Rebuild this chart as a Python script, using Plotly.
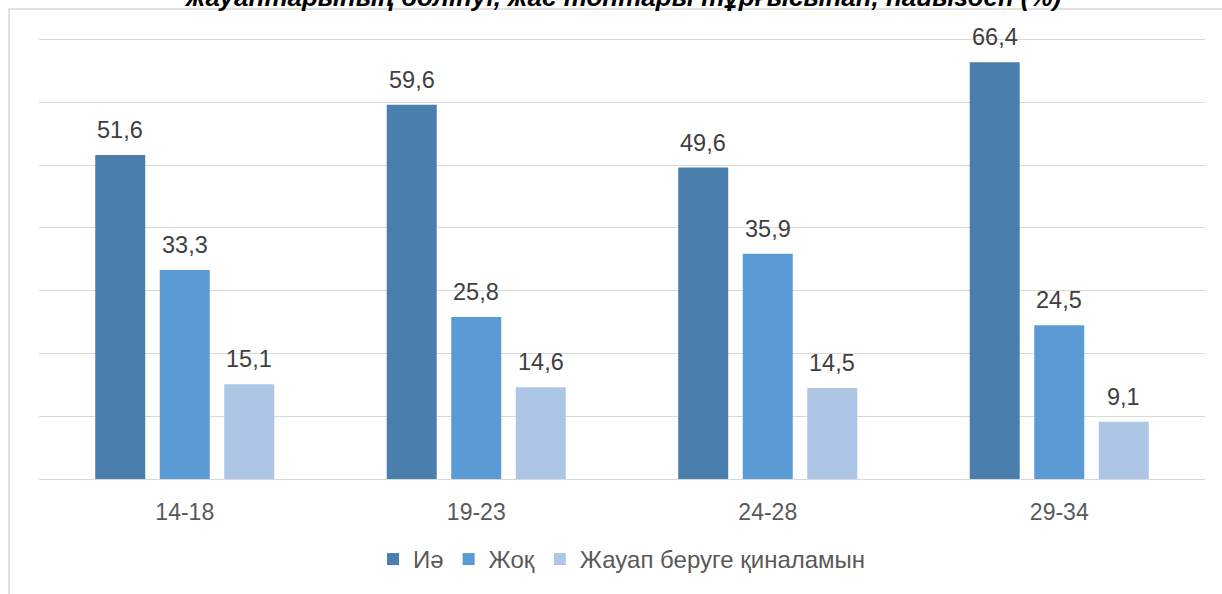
import plotly.graph_objects as go

categories = ["14-18", "19-23", "24-28", "29-34"]
series_names = ["Иә", "Жоқ", "Жауап беруге қиналамын"]
yes_vals = [51.6, 59.6, 49.6, 66.4]
no_vals = [33.3, 25.8, 35.9, 24.5]
hard_vals = [15.1, 14.6, 14.5, 9.1]
colors = ["#4A7EAD", "#5B9BD5", "#ADC6E5"]
title_text = "жауаптарының бөлінуі, жас топтары тұрғысынан, пайызбен (%)"

FONT = "Liberation Sans, Arial, sans-serif"
BARGAP = 0.336
BARGROUPGAP = 0.225

W, H = 1222, 594
ML, MR, MT, MB = 39, 17, 27, 112
PLOT_H = H - MT - MB


def py(pix):
    """figure pixel row -> paper y"""
    return (H - MB - pix) / PLOT_H


def px(pix):
    return (pix - ML) / (W - ML - MR)


fig = go.Figure()
all_vals = [yes_vals, no_vals, hard_vals]
n_series = len(all_vals)
slot = (1 - BARGAP) / n_series
for si, (name, vals, col) in enumerate(zip(series_names, all_vals, colors)):
    fig.add_trace(go.Bar(
        name=name, x=categories, y=vals, marker_color=col,
        marker_line_width=0,
    ))
    for ci, v in enumerate(vals):
        fig.add_annotation(
            x=ci + (si - (n_series - 1) / 2) * slot, y=v, xref="x", yref="y",
            text=f"{v:.1f}".replace(".", ","), showarrow=False,
            yanchor="bottom", yshift=10,
            font=dict(size=23.5, color="#404040", family=FONT),
        )

fig.update_layout(
    width=W, height=H,
    margin=dict(l=ML, r=MR, t=MT, b=MB),
    paper_bgcolor="white", plot_bgcolor="white",
    barmode="group", bargap=BARGAP, bargroupgap=BARGROUPGAP,
    font=dict(family=FONT, color="#595959", size=23),
    showlegend=True,
    legend=dict(orientation="h", x=0.5, xanchor="center", y=py(563), yanchor="middle",
                font=dict(size=24, color="#595959"), traceorder="normal"),
)
fig.update_xaxes(showgrid=False, showline=False, ticks="", tickfont=dict(size=23, color="#595959"),
                 ticklabelstandoff=17)
fig.update_yaxes(range=[0, 72], tickvals=[0, 10, 20, 30, 40, 50, 60, 70], showgrid=True,
                 gridcolor="#D9D9D9", gridwidth=1,
                 showticklabels=False, zeroline=True, zerolinecolor="#D9D9D9", zerolinewidth=1,
                 showline=False)

# outer chart frame (partially cropped)
fig.add_shape(type="rect", xref="paper", yref="paper", x0=px(9), x1=px(1260), y0=py(640), y1=py(9),
              line=dict(color="#D9D9D9", width=1.5), fillcolor="rgba(0,0,0,0)", layer="below")

# cropped title
fig.add_annotation(text=f"<b><i>{title_text}</i></b>", xref="paper", yref="paper",
                   x=0.5, y=py(13.5), yanchor="bottom", showarrow=False,
                   font=dict(size=26, color="#000000", family=FONT))

fig.write_html("out.html", config={"displayModeBar": False},
               post_script="document.body.style.margin='0';")
